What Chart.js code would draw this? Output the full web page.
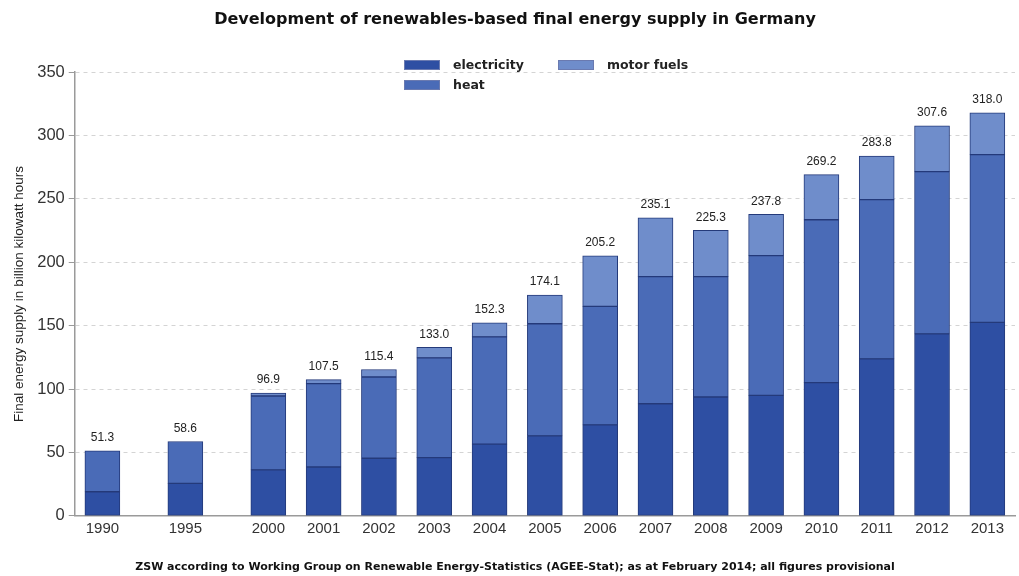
<!DOCTYPE html>
<html>
<head>
<meta charset="utf-8">
<script src="https://cdn.jsdelivr.net/npm/chart.js@4.4.1/dist/chart.umd.min.js"></script>
<style>
    html, body { margin: 0; padding: 0; background: #fff; }
    #wrap { position: relative; width: 1019px; height: 576px; }
    #legend { position: absolute; left: 0; top: 0; font: bold 12.5px "DejaVu Sans", sans-serif; color: #222; }
    .item { position: absolute; display: flex; align-items: center; white-space: nowrap; }
    .swatch { width: 36px; height: 10px; margin-right: 13px; box-sizing: border-box; border: 1px solid #6a7ab0; }
</style>
</head>
<body>
<div id="wrap">
    <canvas id="chart" width="1019" height="576"></canvas>
    <div id="legend"></div>
</div>
<script>
// Renewables-based final energy supply in Germany, billion kWh
const years = ['1990', '1995', '2000', '2001', '2002', '2003', '2004', '2005',
               '2006', '2007', '2008', '2009', '2010', '2011', '2012', '2013'];
const electricity = [19.0, 25.6, 36.2, 38.5, 45.4, 45.9, 56.5, 63.1,
                     71.8, 88.4, 93.7, 95.0, 105.1, 123.8, 143.6, 152.6];
const heat = [32.3, 33.0, 58.3, 65.8, 64.1, 78.7, 84.7, 88.4,
              93.4, 100.3, 95.0, 110.3, 128.5, 125.6, 128.0, 132.4];
const motorFuels = [0, 0, 2.4, 3.2, 5.9, 8.4, 11.1, 22.6,
                    40.0, 46.4, 36.6, 32.5, 35.6, 34.4, 36.0, 33.0];
const yTicks = [0, 50, 100, 150, 200, 250, 300, 350];

const colors = {
    electricity: '#2e4fa3',
    heat: '#4a6bb7',
    motorFuels: '#6f8dcb'
};

// 1990 and 1995 stand a little further apart than the yearly bars,
// so the category axis runs in half steps with blank slots in between
const labels = [''];
const slotOf = [];
years.forEach((y, i) => {
    slotOf.push(labels.length);
    labels.push(y);
    labels.push('');
    if (i < 2) labels.push('');
});

function spread(values) {
    const out = labels.map(() => null);
    values.forEach((v, i) => { out[slotOf[i]] = v; });
    return out;
}

const totals = years.map((_, i) => electricity[i] + heat[i] + motorFuels[i]);

const datasets = [
    { label: 'electricity', data: spread(electricity), backgroundColor: colors.electricity },
    { label: 'heat', data: spread(heat), backgroundColor: colors.heat },
    { label: 'motor fuels', data: spread(motorFuels), backgroundColor: colors.motorFuels }
].map(ds => Object.assign(ds, {
    borderColor: '#243a7a',
    borderWidth: 1,
    borderSkipped: false,
    barThickness: 35
}));

// total above each bar
const totalLabels = {
    id: 'totalLabels',
    afterDatasetsDraw(chart) {
        const { ctx, scales } = chart;
        ctx.save();
        ctx.font = '12px "Liberation Sans", Arial, sans-serif';
        ctx.fillStyle = '#222';
        ctx.textAlign = 'center';
        ctx.textBaseline = 'bottom';
        totals.forEach((t, i) => {
            const x = scales.x.getPixelForValue(slotOf[i]);
            const y = scales.y.getPixelForValue(t);
            ctx.fillText(t.toFixed(1), x, y - 7);
        });
        ctx.restore();
    }
};

const chart = new Chart(document.getElementById('chart'), {
    type: 'bar',
    data: { labels: labels, datasets: datasets },
    options: {
        responsive: false,
        animation: false,
        layout: { padding: { left: 11, right: 0, top: 0, bottom: 2 } },
        plugins: {
            legend: { display: false },
            tooltip: { enabled: false },
            title: {
                display: true,
                text: 'Development of renewables-based final energy supply in Germany',
                color: '#111',
                font: { family: '"DejaVu Sans", sans-serif', size: 16, weight: 'bold' },
                padding: { top: 10, bottom: 43 }
            },
            subtitle: {
                display: true,
                position: 'bottom',
                text: 'ZSW according to Working Group on Renewable Energy-Statistics (AGEE-Stat); as at February 2014; all figures provisional',
                color: '#111',
                font: { family: '"DejaVu Sans", sans-serif', size: 11, weight: 'bold' },
                padding: { top: 19, bottom: 0 }
            }
        },
        scales: {
            x: {
                stacked: true,
                offset: false,
                grid: { display: false, drawTicks: false },
                border: { display: true, color: '#9a9a9a', width: 1.5 },
                ticks: {
                    autoSkip: false,
                    maxRotation: 0,
                    padding: 4,
                    color: '#333',
                    font: { family: '"Liberation Sans", Arial, sans-serif', size: 15 }
                }
            },
            y: {
                stacked: true,
                min: 0,
                max: 350,
                afterBuildTicks(scale) {
                    scale.ticks = yTicks.map(v => ({ value: v }));
                },
                grid: {
                    color: '#d4d4d4',
                    drawTicks: true,
                    tickLength: 6,
                    tickColor: '#9a9a9a'
                },
                border: { display: true, color: '#9a9a9a', width: 1.5, dash: [4, 4] },
                ticks: {
                    padding: 4,
                    color: '#333',
                    font: { family: '"Liberation Sans", Arial, sans-serif', size: 16.5 }
                },
                title: {
                    display: true,
                    text: 'Final energy supply in billion kilowatt hours',
                    color: '#222',
                    font: { family: '"Liberation Sans Narrow", "Liberation Sans", sans-serif', size: 13.5 },
                    padding: { top: 0, bottom: 6 }
                }
            }
        }
    },
    plugins: [totalLabels]
});

// two-column legend at the top of the plot
const legendPos = [
    { left: 404, top: 57 },
    { left: 404, top: 77 },
    { left: 558, top: 57 }
];
const legendEl = document.getElementById('legend');
chart.data.datasets.forEach((ds, i) => {
    const item = document.createElement('div');
    item.className = 'item';
    item.style.left = legendPos[i].left + 'px';
    item.style.top = legendPos[i].top + 'px';
    item.innerHTML = `<span class="swatch" style="background:${ds.backgroundColor}"></span><span>${ds.label}</span>`;
    legendEl.appendChild(item);
});
</script>
</body>
</html>
